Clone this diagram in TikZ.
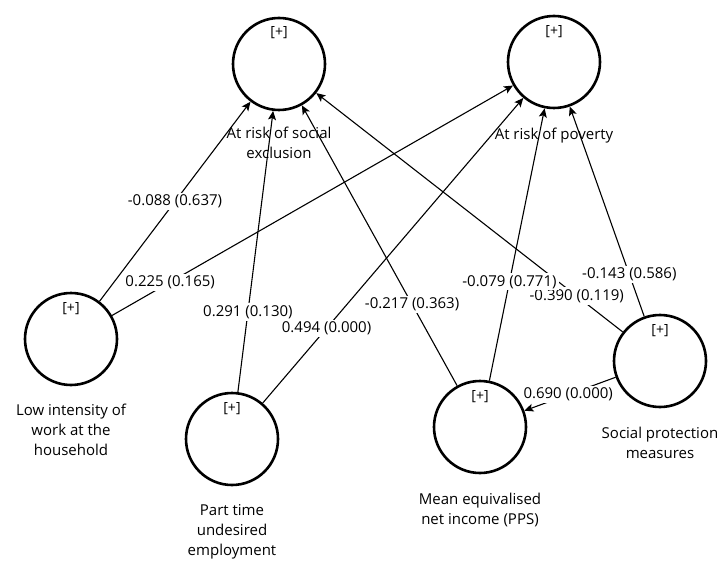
\documentclass[tikz,border=0pt]{standalone}
\usepackage{fontspec}
\setmainfont{Open Sans}
\usetikzlibrary{arrows.meta}
\tikzset{
  construct/.style={circle,draw,line width=2.6pt,minimum size=92pt,inner sep=0pt},
  plus/.style={font=\fontsize{14}{16}\selectfont},
  conname/.style={align=center,font=\fontsize{15}{20}\selectfont},
  coef/.style={fill=white,inner sep=2pt,font=\fontsize{15}{16}\selectfont}
}
\begin{document}
\begin{tikzpicture}[x=1pt,y=-1pt,>={Stealth[length=9pt,width=8pt,inset=2pt]},line width=1.1pt]
		\useasboundingbox (0,0) rectangle (719,561);
		\node[construct](exclusion) at (279,64){};
		\node[construct](poverty) at (554,62){};
		\node[construct](lowwork) at (71,339){};
		\node[construct](parttime) at (232,439){};
		\node[construct](income) at (480,427){};
		\node[construct](protection) at (660,361){};
		% [+] marks
		\node[plus,above of=exclusion,node distance=31pt](exclusionplus){[+]};
		\node[plus,above of=poverty,node distance=30pt](povertyplus){[+]};
		\node[plus,above of=lowwork,node distance=30pt](lowworkplus){[+]};
		\node[plus,above of=parttime,node distance=30pt](parttimeplus){[+]};
		\node[plus,above of=income,node distance=30pt](incomeplus){[+]};
		\node[plus,above of=protection,node distance=30pt](protectionplus){[+]};
		% names
		\node[conname,below of=exclusion,node distance=79pt](exclusionname){At risk of social\\exclusion};
		\node[conname,below of=poverty,node distance=74pt](povertyname){At risk of poverty};
		\node[conname,below of=lowwork,node distance=91pt](lowworkname){Low intensity of\\work at the\\household};
		\node[conname,below of=parttime,node distance=93pt](parttimename){Part time\\undesired\\employment};
		\node[conname,below of=income,node distance=83pt](incomename){Mean equivalised\\net income (PPS)};
		\node[conname,below of=protection,node distance=82pt](protectionname){Social protection\\measures};
		\path[->]
		(lowwork) edge node[coef,pos=0.5]{-0.088 (0.637)} (exclusion)
		(lowwork) edge node[coef,pos=0.145]{0.225 (0.165)} (poverty)
		(parttime) edge node[coef,pos=0.285]{0.291 (0.130)} (exclusion)
		(parttime) edge node[coef,pos=0.245]{0.494 (0.000)} (poverty)
		(protection) edge node[coef,pos=0.2]{-0.143 (0.586)} (poverty)
		(protection) edge node[coef,pos=0.15]{-0.390 (0.119)} (exclusion)
		(income) edge node[coef,pos=0.29]{-0.217 (0.363)} (exclusion)
		(income) edge node[coef,pos=0.363]{-0.079 (0.771)} (poverty)
		(protection) edge node[coef,pos=0.52]{0.690 (0.000)} (income);
\end{tikzpicture}
\end{document}
